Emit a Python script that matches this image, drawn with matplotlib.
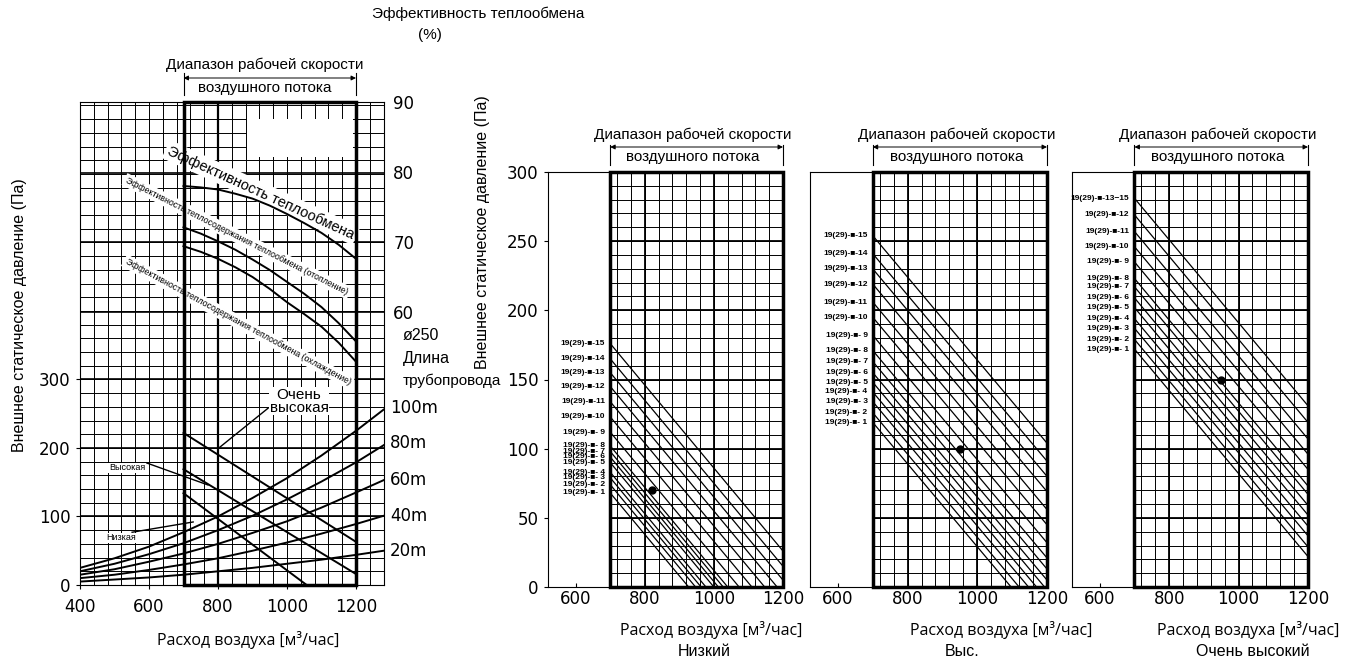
import matplotlib
matplotlib.use("Agg")
import matplotlib.pyplot as plt
import matplotlib.transforms as mtransforms
from matplotlib.patches import Rectangle

# Левая диаграмма: кривые сети для разной длины трубопровода (Па)
sys_flow = [400, 500, 600, 700, 800, 900, 1000, 1100, 1200, 1280]
pipe_labels = ["100m", "80m", "60m", "40m", "20m"]
pipe_100 = [25, 39, 56, 77, 100, 127, 156, 189, 225, 256]
pipe_80 = [20, 31, 45, 61, 80, 101, 125, 151, 179, 204]
pipe_60 = [15, 23, 34, 46, 60, 76, 93, 113, 135, 153]
pipe_40 = [10, 15, 22, 30, 39, 50, 62, 75, 89, 101]
pipe_20 = [5, 8, 11, 15, 20, 25, 31, 37, 44, 50]

# Характеристики вентилятора (левая диаграмма)
fan_vhigh_q = [700, 1200]
fan_vhigh_p = [222, 63]
fan_high_q = [700, 1200]
fan_high_p = [169, 16]
fan_low_q = [700, 1057]
fan_low_p = [134, 0]

# Эффективность (%)
eff_flow = [700, 750, 800, 850, 900, 950, 1000, 1050, 1100, 1150, 1200]
eff_exchange = [78.0, 77.8, 77.5, 76.9, 76.2, 75.2, 74.0, 72.7, 71.3, 69.6, 67.6]
eff_heating = [72.1, 71.2, 70.1, 68.9, 67.5, 66.0, 64.3, 62.6, 60.7, 58.4, 55.8]
eff_cooling = [69.4, 68.6, 67.6, 66.4, 65.0, 63.3, 61.4, 59.7, 57.9, 55.6, 52.9]

# Три правые диаграммы: начало линии при 700 м3/ч и её конец
low_start = [68, 74, 79, 83, 90, 94, 98, 102, 112, 123, 134, 145, 155, 165, 176]
low_end_q = [927, 947, 963, 977, 1000, 1013, 1027, 1040, 1073, 1110, 1147, 1183, 1200, 1200, 1200]
low_end_p = [0, 0, 0, 0, 0, 0, 0, 0, 0, 0, 0, 0, 5, 15, 26]
low_names = ["19(29)-■- %d" % n if n < 10 else "19(29)-■-%d" % n for n in range(1, 16)]

high_start = [119, 126, 134, 141, 148, 155, 163, 171, 182, 195, 206, 219, 230, 241, 254]
high_end_q = [1097, 1120, 1147, 1170, 1193, 1200, 1200, 1200, 1200, 1200, 1200, 1200, 1200, 1200, 1200]
high_end_p = [0, 0, 0, 0, 0, 5, 13, 21, 32, 45, 56, 69, 80, 91, 104]
high_names = low_names

vhigh_start = [172, 179, 187, 194, 202, 209, 217, 223, 235, 246, 257, 269, 281]
vhigh_end_q = [1200] * 13
vhigh_end_p = [22, 29, 37, 44, 52, 59, 67, 73, 85, 96, 107, 119, 131]
vhigh_names = ["19(29)-■- %d" % n if n < 10 else "19(29)-■-%d" % n for n in range(1, 13)] + ["19(29)-■-13−15"]

points = [(820, 70), (950, 100), (950, 150)]
modes = ["Низкий", "Выс.", "Очень высокий"]

ARIAL = ["Liberation Sans", "DejaVu Sans"]
TICKF = ["DejaVu Sans"]
OPEN = ["Open Sans", "DejaVu Sans"]

W, H = 1345, 666
fig = plt.figure(figsize=(W / 100, H / 100), dpi=100)


def fx(px):
    return px / W


def fy(py):
    return 1 - py / H


def range_note(ax, q_mid, y1, ya, y2, t0, t1):
    tr = mtransforms.blended_transform_factory(ax.transData, fig.transFigure)
    ax.text(q_mid, fy(y1), "Диапазон рабочей скорости", transform=tr, ha="center",
            va="center", fontsize=11, family=ARIAL)
    ax.text(q_mid, fy(y2), "воздушного потока", transform=tr, ha="center",
            va="center", fontsize=11, family=ARIAL)
    ax.annotate("", xy=(700, fy(ya)), xytext=(1200, fy(ya)), xycoords=tr, textcoords=tr,
                arrowprops=dict(arrowstyle="<|-|>", lw=0.7, color="black",
                                mutation_scale=7, shrinkA=0, shrinkB=0))
    for q in (700, 1200):
        ax.plot([q, q], [fy(t0), fy(t1)], transform=tr, color="black", lw=0.8, clip_on=False)


# ---------------- левая диаграмма ----------------
ax = fig.add_axes([fx(80), fy(585), fx(383.6) - fx(80), fy(102) - fy(585)])
ax.set_xlim(400, 1280)
ax.set_ylim(0, 705)
ax.vlines(range(400, 1281, 40), 0, 705, color="black", lw=0.7, zorder=1)
ax.hlines(range(0, 705, 20), 400, 1280, color="black", lw=0.7, zorder=1)
ax.hlines([100, 200, 300, 398, 500, 602], 400, 1280, color="black", lw=1.2, zorder=1)
ax.vlines([800], 0, 705, color="black", lw=1.6, zorder=1)
ax.add_patch(Rectangle((884, 625), 307, 55, facecolor="white", edgecolor="none", zorder=1.5))
ax.add_patch(Rectangle((700, 0), 500, 705, fill=False, lw=2.5, edgecolor="black",
                       zorder=4, clip_on=False))

for vals in (pipe_100, pipe_80, pipe_60, pipe_40, pipe_20):
    ax.plot(sys_flow, vals, color="black", lw=1.4, zorder=3)
for q, p in ((fan_vhigh_q, fan_vhigh_p), (fan_high_q, fan_high_p), (fan_low_q, fan_low_p)):
    ax.plot(q, p, color="black", lw=1.4, zorder=3)

# подписи режимов
ax.text(1035, 268, "Очень\nвысокая", ha="center", va="center", fontsize=11,
        family=ARIAL, linespacing=0.85, zorder=5,
        bbox=dict(facecolor="white", edgecolor="none", pad=0.5))
ax.plot([945, 800], [258, 199], color="black", lw=1.0, zorder=3)
ax.text(536, 171, "Высокая", ha="center", va="center", fontsize=6.5, family=ARIAL,
        zorder=5, bbox=dict(facecolor="white", edgecolor="none", pad=0.5))
ax.plot([594, 771], [178, 146], color="black", lw=1.0, zorder=3)
ax.text(519, 69, "Низкая", ha="center", va="center", fontsize=6.5, family=ARIAL,
        zorder=5, bbox=dict(facecolor="white", edgecolor="none", pad=0.5))
ax.plot([551, 728], [77, 92], color="black", lw=1.0, zorder=3)

# подписи кривых эффективности
ax.text(925, 573, "Эффективность теплообмена", rotation=-24.6, rotation_mode="anchor",
        ha="center", va="center", fontsize=10.5, family=ARIAL, zorder=2,
        bbox=dict(facecolor="white", edgecolor="none", pad=2))
ax.text(855, 509, "Эффективность теплосодержания теплообмена (отопление)", rotation=-27,
        rotation_mode="anchor", ha="center", va="center", fontsize=6.3, family=ARIAL,
        zorder=2, bbox=dict(facecolor="white", edgecolor="none", pad=1.5))
ax.text(858, 384, "Эффективность теплосодержания теплообмена (охлаждение)", rotation=-28.5,
        rotation_mode="anchor", ha="center", va="center", fontsize=6.3, family=ARIAL,
        zorder=2, bbox=dict(facecolor="white", edgecolor="none", pad=1.5))

ax.set_xticks([400, 600, 800, 1000, 1200])
ax.set_yticks([0, 100, 200, 300])
ax.tick_params(direction="out", length=3, width=0.8, labelsize=12)
ax.tick_params(axis="x", pad=6)
ax.tick_params(axis="y", pad=4)
for lab in ax.get_xticklabels() + ax.get_yticklabels():
    lab.set_family(TICKF)
for s in ax.spines.values():
    s.set_linewidth(0.8)

ax2 = ax.twinx()
ax2.set_ylim(21.0, 90)
ax2.plot(eff_flow, eff_exchange, color="black", lw=1.4, zorder=3)
ax2.plot(eff_flow, eff_heating, color="black", lw=1.4, zorder=3)
ax2.plot(eff_flow, eff_cooling, color="black", lw=1.4, zorder=3)
ax2.set_yticks([60, 70, 80, 90])
ax2.tick_params(length=0, pad=7, labelsize=12)
for lab in ax2.get_yticklabels():
    lab.set_family(TICKF)
for s in ax2.spines.values():
    s.set_visible(False)

range_note(ax, 935, 65, 78, 88, 73, 95)

for lab, py in zip(pipe_labels, [408, 443, 480, 516, 551]):
    fig.text(fx(390), fy(py), lab, ha="left", va="center", fontsize=12, family=TICKF)
fig.text(fx(403), fy(336), "ø250", ha="left", va="center", fontsize=11.5, family=ARIAL)
fig.text(fx(403), fy(359), "Длина", ha="left", va="center", fontsize=11.5, family=ARIAL)
fig.text(fx(403), fy(381), "трубопровода", ha="left", va="center", fontsize=11, family=ARIAL)

fig.text(fx(478), fy(14), "Эффективность теплообмена", ha="center", va="center",
         fontsize=11, family=ARIAL)
fig.text(fx(430), fy(35), "(%)", ha="center", va="center", fontsize=11, family=ARIAL)
fig.text(fx(20), fy(315), "Внешнее статическое давление (Па)", rotation=90, ha="center",
         va="center", fontsize=11.5, family=ARIAL)
fig.text(fx(248), fy(640), "Расход воздуха [м³/час]", ha="center", va="center",
         fontsize=11.5, family=OPEN)

# ---------------- три правые диаграммы ----------------
panels = [
    (548, 783, low_start, low_end_q, low_end_p, low_names, 711, 704),
    (810, 1047, high_start, high_end_q, high_end_p, high_names, 1001, 962),
    (1072, 1308, vhigh_start, vhigh_end_q, vhigh_end_p, vhigh_names, 1248, 1253),
]
for i, (x0, x1, starts, eq, ep, names, xl, ml) in enumerate(panels):
    a = fig.add_axes([fx(x0), fy(587), fx(x1) - fx(x0), fy(172) - fy(587)])
    a.set_xlim(520, 1200)
    a.set_ylim(0, 300)
    a.vlines(range(720, 1200, 40), 0, 300, color="black", lw=0.7, zorder=1)
    a.vlines([800, 1000], 0, 300, color="black", lw=1.3, zorder=1)
    a.hlines(range(10, 300, 10), 700, 1200, color="black", lw=0.7, zorder=1)
    a.hlines(range(50, 300, 50), 700, 1200, color="black", lw=1.3, zorder=1)
    a.add_patch(Rectangle((700, 0), 500, 300, fill=False, lw=2.5, edgecolor="black",
                          zorder=4, clip_on=False))
    for p0, q1, p1, name in zip(starts, eq, ep, names):
        a.plot([700, q1], [p0, p1], color="black", lw=0.9, zorder=3)
        a.text(685, p0, name, ha="right", va="center", fontsize=6, family=ARIAL,
               fontweight="bold")
    a.plot(*points[i], "o", color="black", ms=5, zorder=5)
    a.set_xticks([600, 800, 1000, 1200])
    a.tick_params(axis="x", direction="in", length=3, width=0.8, pad=2, labelsize=12)
    if i == 0:
        a.set_yticks(range(0, 301, 50))
        a.tick_params(axis="y", direction="out", length=3, width=0.8, pad=4, labelsize=12)
    else:
        a.set_yticks([])
    for lab in a.get_xticklabels() + a.get_yticklabels():
        lab.set_family(TICKF)
    for s in a.spines.values():
        s.set_linewidth(0.8)
    range_note(a, 940, 135, 147, 157, 145, 165)
    fig.text(fx(xl), fy(630), "Расход воздуха [м³/час]", ha="center", va="center",
             fontsize=11.5, family=OPEN)
    fig.text(fx(ml), fy(652), modes[i], ha="center", va="center", fontsize=11.5, family=ARIAL)

fig.text(fx(483), fy(232), "Внешнее статическое давление (Па)", rotation=90, ha="center",
         va="center", fontsize=11.5, family=ARIAL)

plt.savefig("out.png", dpi=100)
